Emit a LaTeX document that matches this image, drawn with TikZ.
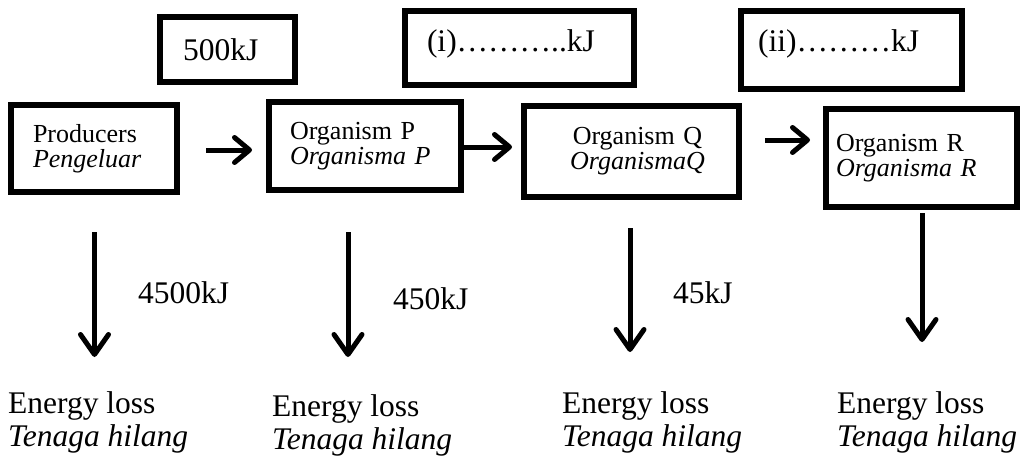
\documentclass[tikz,border=0pt]{standalone}
\usepackage{fontspec}
\setmainfont{Liberation Serif}
\usetikzlibrary{arrows.meta}
\begin{document}
\begin{tikzpicture}[x=1pt,y=-1pt,
  box/.style={draw, line width=6pt, inner sep=0pt, anchor=center},
  main/.style={font=\fontsize{31.5}{33}\selectfont},
  small/.style={font=\fontsize{26}{25}\selectfont},
  flow/.style={line width=5pt, -{Straight Barb[length=15pt,width=25pt,line cap=round,line join=round]}},
  down/.style={line width=5pt, -{Straight Barb[length=20pt,width=28pt,line cap=round,line join=round]}},
  loss/.style={main, align=left, anchor=base west, inner sep=0pt},
  amount/.style={main, anchor=base west, inner sep=0pt}]
\useasboundingbox (0,0) rectangle (1022,458);

% energy boxes (top row)
\node[box, main, minimum width=135pt, minimum height=65pt, text width=89pt, inner xsep=23pt, align=left] (e500) at (227.5,49.5) {500kJ};
\node[box, main, minimum width=229pt, minimum height=74pt, text width=185pt, inner xsep=22pt, align=left, text height=21pt, text depth=15pt] (ei) at (519.5,48) {(i)………..kJ};
\node[box, main, minimum width=221pt, minimum height=78pt, text width=187pt, inner xsep=17pt, align=left, text height=21pt, text depth=19pt] (eii) at (851.5,50) {(ii)………kJ};

% organism boxes
\node[box, small, minimum width=166pt, minimum height=87pt, text width=122pt, inner xsep=22pt, align=left] (prod) at (94,148.5) {Producers\\\textit{Pengeluar}};
\node[box, small, minimum width=192pt, minimum height=88pt, text width=150pt, inner xsep=21pt, align=left] (P) at (365,146) {Organism P\\\textit{Organisma P}};
\node[box, small, minimum width=215pt, minimum height=91pt, text width=175pt, inner xsep=20pt, align=center] (Q) at (631.5,151.5) {\hspace*{12pt}Organism Q\\\hspace*{12pt}\textit{OrganismaQ}};
\node[box, small, minimum width=191pt, minimum height=98pt, text width=171pt, inner xsep=10pt, align=left] (R) at (921.5,158) {Organism R\\\textit{Organisma R}};

% horizontal flow arrows
\draw[flow, shorten <=26pt, shorten >=14pt] ([yshift=-1.5pt]prod.east) -- ([yshift=-1.5pt]prod.east -| P.west);
\draw[flow, shorten >=9pt] ([yshift=-1pt]P.east) -- ([yshift=-1pt]P.east -| Q.west);
\draw[flow, shorten <=23pt, shorten >=13pt] ([yshift=11.5pt]Q.east) -- ([yshift=11.5pt]Q.east -| R.west);

% energy loss amounts
\node[amount] (k1) at (138,303) {4500kJ};
\node[amount] (k2) at (393,309) {450kJ};
\node[amount] (k3) at (673,303) {45kJ};

% energy loss labels (anchor = baseline of last line)
\node[loss] (l1) at (8,446) {Energy loss\\\textit{Tenaga hilang}};
\node[loss] (l2) at (272,449) {Energy loss\\\textit{Tenaga hilang}};
\node[loss] (l3) at (562,446) {Energy loss\\\textit{Tenaga hilang}};
\node[loss] (l4) at (837,446) {Energy loss\\\textit{Tenaga hilang}};

% vertical arrows
\coordinate (d1a) at (94.5,232);  \coordinate (d1b) at (94.5,357);
\coordinate (d2a) at (348,232);   \coordinate (d2b) at (348,357);
\coordinate (d3a) at (630,228);   \coordinate (d3b) at (630,352);
\coordinate (d4a) at (922,213);   \coordinate (d4b) at (922,342);
\draw[down] (d1a) -- (d1b);
\draw[down] (d2a) -- (d2b);
\draw[down] (d3a) -- (d3b);
\draw[down] (d4a) -- (d4b);
\end{tikzpicture}
\end{document}
